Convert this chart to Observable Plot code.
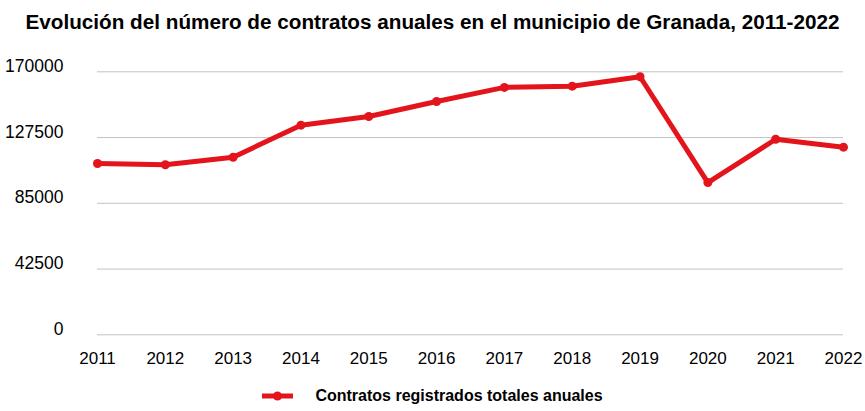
<!DOCTYPE html>
<html>
<head>
<meta charset="utf-8">
<script src="https://cdn.jsdelivr.net/npm/d3@7"></script>
<script src="https://cdn.jsdelivr.net/npm/@observablehq/plot@0.6"></script>
<style>
  body { margin: 0; background: #fff; font-family: "Liberation Sans", Arial, Helvetica, sans-serif; }
  #wrap { position: relative; width: 865px; height: 411px; overflow: hidden; }
  #title { position: absolute; left: 0; top: 11.8px; width: 865px; text-align: center; font-weight: bold; font-size: 20.7px; line-height: 1; color: #000; white-space: nowrap; }
  #chart { position: absolute; left: 0; top: 0; }
  #legend { position: absolute; left: 0; top: 388px; width: 865px; display: flex; justify-content: center; align-items: center; font-weight: bold; font-size: 16px; line-height: 1; color: #000; }
  #legend svg { margin-right: 22px; }
</style>
</head>
<body>
<div id="wrap">
  <div id="chart"></div>
  <div id="title">Evolución del número de contratos anuales en el municipio de Granada, 2011-2022</div>
  <div id="legend"></div>
</div>
<script>
const years = [2011, 2012, 2013, 2014, 2015, 2016, 2017, 2018, 2019, 2020, 2021, 2022];
const contratos = [110700, 109900, 114800, 135500, 141100, 150800, 159900, 160700, 166800, 98400, 126400, 121300];
const yTicks = [0, 42500, 85000, 127500, 170000];
const seriesName = "Contratos registrados totales anuales";
const red = "#e3141c";

const data = years.map((y, i) => ({year: y, value: contratos[i]}));

const chart = Plot.plot({
  width: 865,
  height: 385,
  marginLeft: 97,
  marginRight: 22,
  marginTop: 71.3,
  marginBottom: 50.7,
  style: {fontFamily: '"Liberation Sans", Arial, Helvetica, sans-serif', color: "#000", background: "transparent"},
  x: {type: "linear", domain: [years[0], years[years.length - 1]]},
  y: {domain: [0, 170000]},
  marks: [
    Plot.gridY(yTicks, {stroke: "#c4c4c4", strokeOpacity: 1, strokeWidth: 1}),
    Plot.axisY(yTicks, {tickSize: 0, tickPadding: 34, fontSize: 17.5, dy: -5.6, tickFormat: d => String(d), label: null, fill: "#000"}),
    Plot.axisX(years, {tickSize: 0, tickPadding: 17.6, fontSize: 17, tickFormat: d => String(d), label: null, fill: "#000"}),
    Plot.line(data, {x: "year", y: "value", stroke: red, strokeWidth: 5, strokeLinejoin: "round", strokeLinecap: "round"}),
    Plot.dot(data, {x: "year", y: "value", r: 4.5, fill: red, stroke: null})
  ]
});
document.getElementById("chart").appendChild(chart);

const legend = document.getElementById("legend");
const ns = "http://www.w3.org/2000/svg";
const sw = document.createElementNS(ns, "svg");
sw.setAttribute("width", 31); sw.setAttribute("height", 12);
const ln = document.createElementNS(ns, "line");
ln.setAttribute("x1", 0); ln.setAttribute("x2", 31); ln.setAttribute("y1", 6); ln.setAttribute("y2", 6);
ln.setAttribute("stroke", red); ln.setAttribute("stroke-width", 5);
const c = document.createElementNS(ns, "circle");
c.setAttribute("cx", 15.5); c.setAttribute("cy", 6); c.setAttribute("r", 4.5); c.setAttribute("fill", red);
sw.appendChild(ln); sw.appendChild(c);
legend.appendChild(sw);
const span = document.createElement("span");
span.textContent = seriesName;
legend.appendChild(span);
</script>
</body>
</html>
